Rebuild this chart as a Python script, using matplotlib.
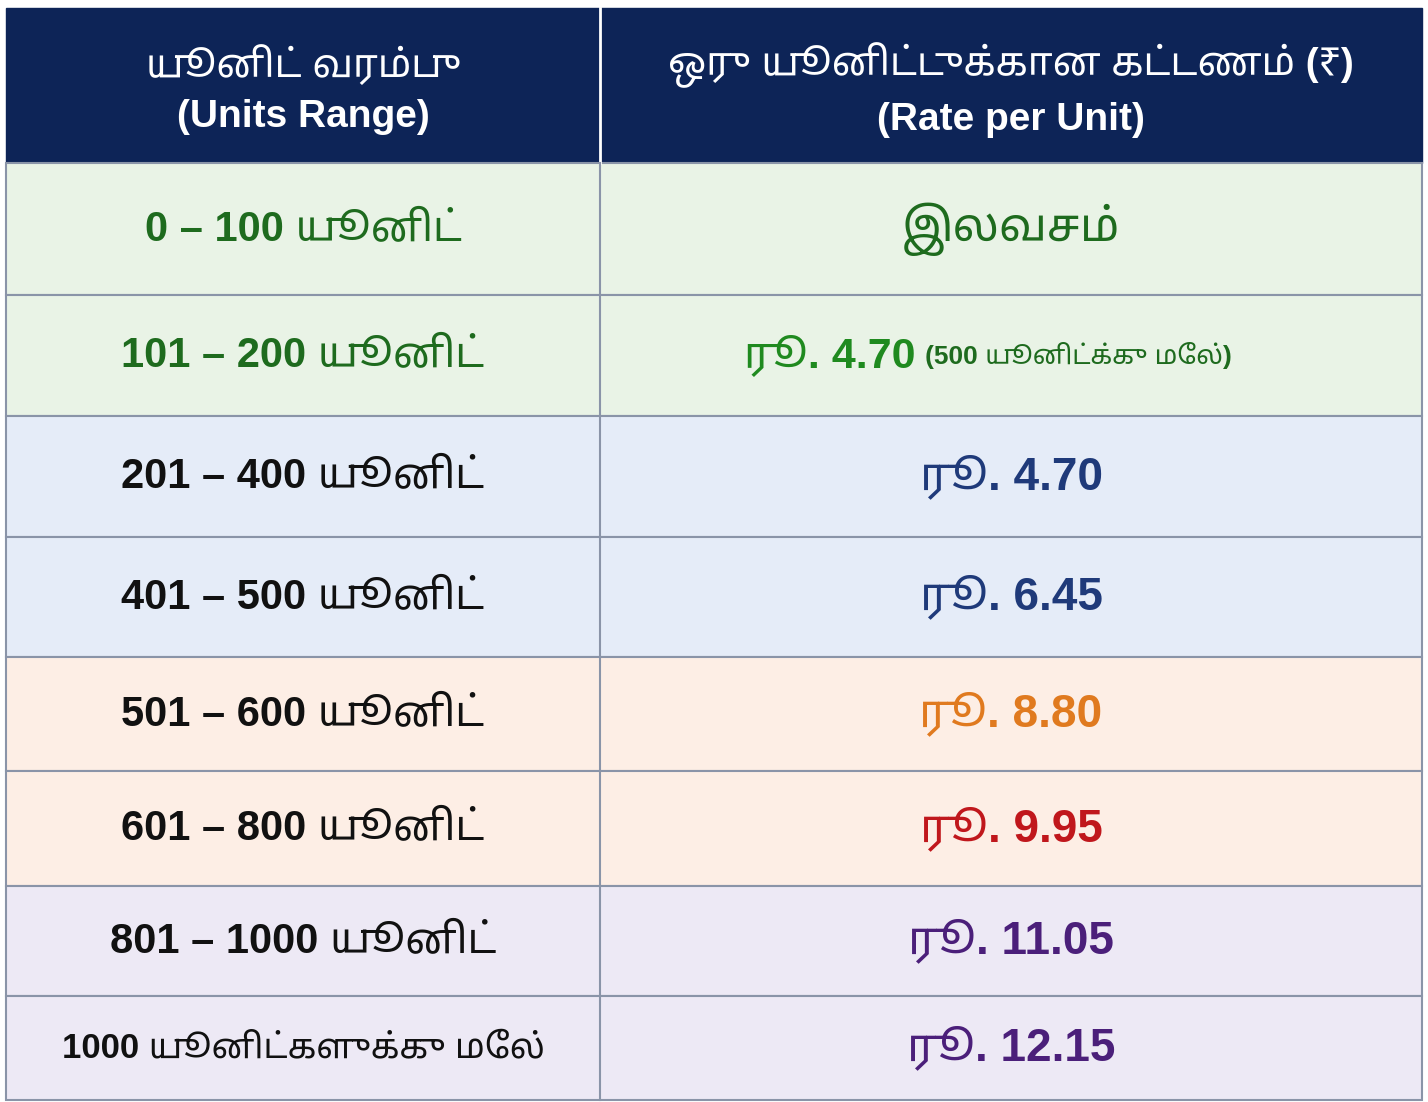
import matplotlib
matplotlib.use("Agg")
import matplotlib.pyplot as plt
from matplotlib.patches import Rectangle
from matplotlib import font_manager

names = {f.name for f in font_manager.fontManager.ttflist}
fam = [n for n in ["Liberation Sans", "Noto Sans Tamil", "Lohit Tamil", "Noto Sans", "DejaVu Sans"] if n in names]
plt.rcParams['font.family'] = fam

header_left = "யூனிட் வரம்பு\n(Units Range)"
header_right = "ஒரு யூனிட்டுக்கான கட்டணம் (₹)\n(Rate per Unit)"
ranges = ["0 – 100 யூனிட்", "101 – 200 யூனிட்", "201 – 400 யூனிட்", "401 – 500 யூனிட்",
          "501 – 600 யூனிட்", "601 – 800 யூனிட்", "801 – 1000 யூனிட்", "1000 யூனிட்களுக்கு மேல்"]
rates = ["இலவசம்", "ரூ. 4.70", "ரூ. 4.70", "ரூ. 6.45", "ரூ. 8.80", "ரூ. 9.95", "ரூ. 11.05", "ரூ. 12.15"]
rate_note = ["", "(500 யூனிட்க்கு மேல்)", "", "", "", "", "", ""]

row_bg = ["#e9f3e6", "#e9f3e6", "#e5ecf8", "#e5ecf8", "#fdeee5", "#fdeee5", "#ede9f5", "#ede9f5"]
left_col = ["#1e6b1e", "#1e6b1e", "#111111", "#111111", "#111111", "#111111", "#111111", "#111111"]
right_col = ["#1e6b1e", "#1f8a1f", "#1f3a7a", "#1f3a7a", "#e07a1f", "#c0171c", "#4b1f7a", "#4b1f7a"]
left_size = [30, 30, 30, 30, 30, 30, 30, 25]

W, H = 1428, 1102
fig = plt.figure(figsize=(W/100, H/100), dpi=100)
ax = fig.add_axes([0, 0, 1, 1])
ax.set_xlim(0, W); ax.set_ylim(H, 0); ax.axis("off")

x0, xm, x1 = 6, 600, 1422
bounds = [163, 295, 416, 537, 657, 771, 886, 996, 1100]
ax.add_patch(Rectangle((x0, 8), x1-x0, bounds[0]-8, color="#0d2457"))
ax.plot([xm, xm], [8, bounds[0]], color="white", lw=2)
ax.text((x0+xm)/2, 90, header_left, ha="center", va="center", color="white", fontsize=28, fontweight="bold", linespacing=1.5)
ax.text((xm+x1)/2, 90, header_right, ha="center", va="center", color="white", fontsize=28, fontweight="bold", linespacing=1.5)

for i in range(len(ranges)):
    y0, y1 = bounds[i], bounds[i+1]
    ax.add_patch(Rectangle((x0, y0), x1-x0, y1-y0, facecolor=row_bg[i], edgecolor="#8a94a8", lw=1.5))
    yc = (y0+y1)/2
    ax.text((x0+xm)/2, yc, ranges[i], ha="center", va="center", color=left_col[i], fontsize=left_size[i], fontweight="bold")
    if rate_note[i]:
        ax.text(915, yc, rates[i], ha="right", va="center", color=right_col[i], fontsize=31, fontweight="bold")
        ax.text(925, yc, rate_note[i], ha="left", va="center", color="#1e6b1e", fontsize=19, fontweight="bold")
    else:
        ax.text((xm+x1)/2, yc, rates[i], ha="center", va="center", color=right_col[i], fontsize=33, fontweight="bold")
ax.plot([xm, xm], [bounds[0], bounds[-1]], color="#8a94a8", lw=1.5)
fig.savefig("out.png", dpi=100)
